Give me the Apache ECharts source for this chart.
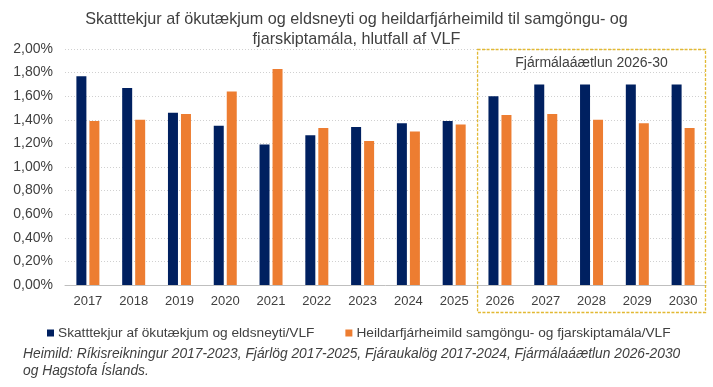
<!DOCTYPE html>
<html>
<head>
<meta charset="utf-8">
<script src="https://cdn.jsdelivr.net/npm/echarts@6/dist/echarts.min.js"></script>
<style>
html,body{margin:0;padding:0;background:#fff;}
#chart{width:713px;height:387px;}
</style>
</head>
<body>
<div id="chart"></div>
<script>
const years = ['2017','2018','2019','2020','2021','2022','2023','2024','2025','2026','2027','2028','2029','2030'];
const skatttekjur = [1.77, 1.67, 1.46, 1.35, 1.19, 1.27, 1.34, 1.37, 1.39, 1.60, 1.70, 1.70, 1.70, 1.70];
const heildarfjarheimild = [1.39, 1.40, 1.45, 1.64, 1.83, 1.33, 1.22, 1.30, 1.36, 1.44, 1.45, 1.40, 1.37, 1.33];
const seriesNames = ['Skatttekjur af ökutækjum og eldsneyti/VLF', 'Heildarfjárheimild samgöngu- og fjarskiptamála/VLF'];
const titleText = 'Skatttekjur af ökutækjum og eldsneyti og heildarfjárheimild til samgöngu- og\nfjarskiptamála, hlutfall af VLF';
const boxLabel = 'Fjármálaáætlun 2026-30';
const boxStart = '2026', boxEnd = '2030';
const footnoteLines = ['Heimild: Ríkisreikningur 2017-2023, Fjárlög 2017-2025, Fjáraukalög 2017-2024, Fjármálaáætlun 2026-2030', 'og Hagstofa Íslands.'];

const FONT = '"Liberation Sans", Arial, sans-serif';
const TXT = '#404040';
const chart = echarts.init(document.getElementById('chart'), null, {renderer: 'canvas'});
chart.setOption({
  animation: false,
  backgroundColor: '#fff',
  textStyle: {fontFamily: FONT},
  title: {
    text: titleText,
    left: 'center',
    top: 5,
    textStyle: {fontFamily: FONT, fontSize: 16.2, fontWeight: 'normal', color: TXT, lineHeight: 20}
  },
  grid: {left: 65, right: 7, top: 49, bottom: 102, containLabel: false},
  legend: {
    data: seriesNames,
    left: 42,
    top: 321,
    itemWidth: 7,
    itemHeight: 7,
    itemGap: 31,
    icon: 'rect',
    textStyle: {fontFamily: FONT, fontSize: 13.7, color: TXT, padding: [0, 0, 0, -1]}
  },
  xAxis: {
    type: 'category',
    data: years,
    axisTick: {show: false},
    axisLine: {lineStyle: {color: '#bfbfbf', width: 1}},
    axisLabel: {fontFamily: FONT, fontSize: 13, color: TXT, margin: 10}
  },
  yAxis: {
    type: 'value',
    min: 0,
    max: 2.0,
    interval: 0.2,
    axisLabel: {
      fontFamily: FONT, fontSize: 14, color: TXT, margin: 12,
      formatter: v => v.toFixed(2).replace('.', ',') + '%'
    },
    splitLine: {lineStyle: {color: '#d0d0d0', type: [1, 2], width: 1}},
    axisLine: {show: false},
    axisTick: {show: false}
  },
  series: [
    {name: seriesNames[0], type: 'bar', data: skatttekjur, barWidth: 10, barGap: '30%', itemStyle: {color: '#002060'}},
    {name: seriesNames[1], type: 'bar', data: heildarfjarheimild, barWidth: 10, itemStyle: {color: '#ED7D31'}}
  ]
});

function drawOverlay() {
  const c0 = chart.convertToPixel({xAxisIndex: 0}, boxStart);
  const c1 = chart.convertToPixel({xAxisIndex: 0}, years[years.indexOf(boxStart) + 1]);
  const cN = chart.convertToPixel({xAxisIndex: 0}, boxEnd);
  const bw = c1 - c0;
  const x0 = c0 - bw / 2, x1 = cN + bw / 2;
  const yTop = chart.convertToPixel({yAxisIndex: 0}, 2.0);
  const yBase = chart.convertToPixel({yAxisIndex: 0}, 0);
  const yBot = yBase + 27;
  chart.setOption({
    graphic: [
      {type: 'rect', silent: true, z: 100,
       shape: {x: x0 + 0.5, y: yTop + 0.5, width: x1 - x0 - 1, height: yBot - yTop},
       style: {fill: 'none', stroke: '#E2B933', lineWidth: 1.3, lineDash: [3, 1.5]}},
      {type: 'text', z: 101, x: (x0 + x1) / 2, y: yTop + 14,
       style: {text: boxLabel, font: '14px ' + FONT, fill: TXT, align: 'center', verticalAlign: 'middle'}},
      {type: 'text', z: 101, left: 23, top: 346,
       style: {text: footnoteLines.join('\n'), font: 'italic 13.8px ' + FONT, fill: TXT, lineHeight: 17}}
    ]
  });
}
drawOverlay();
</script>
</body>
</html>
